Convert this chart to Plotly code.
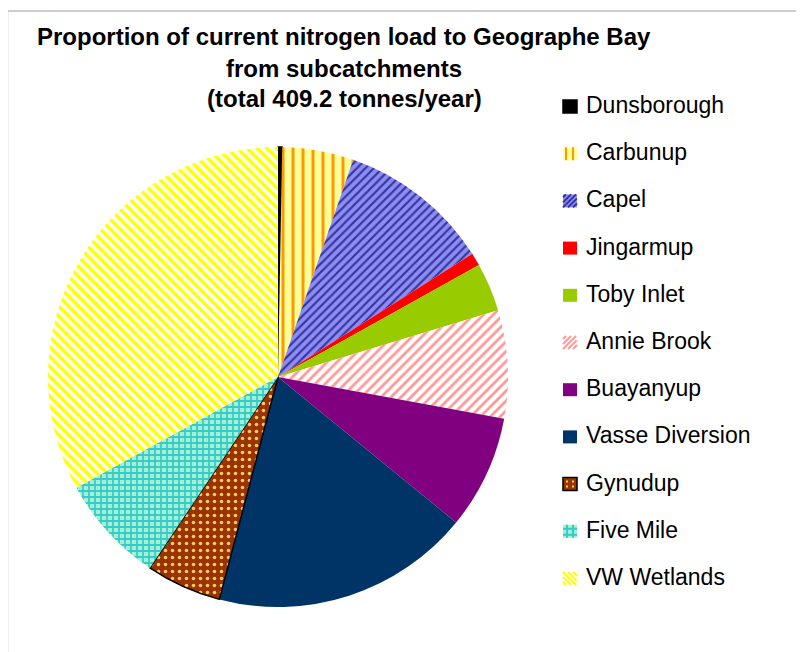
import numpy as np
import plotly.graph_objects as go

W, H = 804, 652
OFF = 8  # page body margin in the browser

labels = ["Dunsborough", "Carbunup", "Capel", "Jingarmup", "Toby Inlet", "Annie Brook",
          "Buayanyup", "Vasse Diversion", "Gynudup", "Five Mile", "VW Wetlands"]
values = [1.2, 20.5, 43.8, 3.7, 13.9, 31.1, 32.7, 74.5, 21.7, 31.1, 135.0]  # tonnes/year

bg_colors = ["#000000", "#FFFF99", "#8C8CF5", "#FF0000", "#99CC00", "#FFFFFF",
             "#800080", "#003366", "#993300", "#A8EED0", "#FFFFFF"]
fg_colors = ["#000000", "#FF9900", "#333399", "#FF0000", "#99CC00", "#FF9999",
             "#800080", "#003366", "#FFCC66", "#33CCCC", "#FFFF00"]
shapes_pat = ["", "|", "/", "", "", "/", "", "", ".", "+", "\\"]
pat_size = [8, 10, 6, 8, 8, 7, 8, 8, 7, 6, 7]
pat_solid = [0.3, 0.3, 0.35, 0.3, 0.3, 0.4, 0.3, 0.3, 0.2, 0.5, 0.5]
line_w = [1.5, 0, 0, 0, 0, 0, 0, 0, 1.5, 0, 0]

title_lines = ["Proportion of current nitrogen load to Geographe Bay",
               "from subcatchments",
               "(total 409.2 tonnes/year)"]


def px(x):
    return (x - OFF) / W


def py(y):
    return 1 - (y - OFF) / H


fig = go.Figure()
fig.add_trace(go.Pie(
    labels=labels, values=values, sort=False, direction="clockwise", rotation=0,
    textinfo="none", hoverinfo="label+value+percent", showlegend=False,
    marker=dict(
        colors=bg_colors,
        line=dict(color="#000000", width=line_w),
        pattern=dict(shape=shapes_pat, fgcolor=fg_colors, bgcolor=bg_colors,
                     size=pat_size, solidity=pat_solid, fillmode="replace"),
    ),
    domain=dict(x=[px(47), px(509)], y=[py(607), py(147)]),
))

annotations = []
title_y = [37, 68, 99]
for t, yy in zip(title_lines, title_y):
    annotations.append(dict(text="<b>" + t + "</b>", x=px(344), y=py(yy), xref="paper", yref="paper",
                            xanchor="center", yanchor="middle", showarrow=False,
                            font=dict(family="Liberation Sans, Arial, sans-serif", size=24, color="#000000")))

shapes = [dict(type="rect", xref="paper", yref="paper", x0=px(7.5), y0=py(11), x1=px(820), y1=py(670),
               line=dict(color="#BDBDBD", width=1.5), fillcolor="rgba(0,0,0,0)", layer="below")]

leg_y0, leg_dy = 105, 47.2
sx0, sx1 = 563, 577
for i, lab in enumerate(labels):
    yc = leg_y0 + i * leg_dy
    annotations.append(dict(text=lab, x=px(584), y=py(yc), xref="paper", yref="paper",
                            xanchor="left", yanchor="middle", showarrow=False,
                            font=dict(family="Liberation Sans, Arial, sans-serif", size=23, color="#000000")))
    y0, y1 = yc - 5, yc + 8
    shapes.append(dict(type="rect", xref="paper", yref="paper", x0=px(sx0), x1=px(sx1), y0=py(y1), y1=py(y0),
                       fillcolor=bg_colors[i],
                       line=dict(color="#000000" if line_w[i] else bg_colors[i], width=1.5 if line_w[i] else 0)))
    pat = shapes_pat[i]
    if pat == "|":
        for xx in [sx0 + 3, sx0 + 10]:
            shapes.append(dict(type="line", xref="paper", yref="paper", x0=px(xx), x1=px(xx), y0=py(y1), y1=py(y0),
                               line=dict(color=fg_colors[i], width=2)))
    elif pat in ("/", "\\"):
        for k in range(-2, 4):
            a = sx0 + k * 5
            if pat == "/":
                xa, ya, xb, yb = a, y1, a + 13, y0
            else:
                xa, ya, xb, yb = a, y0, a + 13, y1
            t = np.linspace(0, 1, 50)
            xs = xa + (xb - xa) * t
            ys = ya + (yb - ya) * t
            m = (xs >= sx0) & (xs <= sx1)
            if m.sum() < 2:
                continue
            shapes.append(dict(type="line", xref="paper", yref="paper",
                               x0=px(xs[m][0]), x1=px(xs[m][-1]), y0=py(ys[m][0]), y1=py(ys[m][-1]),
                               line=dict(color=fg_colors[i], width=2)))
    elif pat == ".":
        for xx in [sx0 + 4, sx0 + 10]:
            for yy in [y0 + 4, y0 + 9]:
                shapes.append(dict(type="rect", xref="paper", yref="paper", x0=px(xx - 1), x1=px(xx + 1),
                                   y0=py(yy + 1), y1=py(yy - 1), fillcolor=fg_colors[i], line=dict(width=0)))
    elif pat == "+":
        for xx in [sx0 + 4, sx0 + 10]:
            shapes.append(dict(type="line", xref="paper", yref="paper", x0=px(xx), x1=px(xx), y0=py(y1), y1=py(y0),
                               line=dict(color=fg_colors[i], width=2)))
        for yy in [y0 + 4, y0 + 10]:
            shapes.append(dict(type="line", xref="paper", yref="paper", x0=px(sx0), x1=px(sx1), y0=py(yy), y1=py(yy),
                               line=dict(color=fg_colors[i], width=2)))

fig.update_layout(
    width=W, height=H, margin=dict(l=0, r=0, t=0, b=0),
    paper_bgcolor="#FFFFFF", plot_bgcolor="#FFFFFF",
    annotations=annotations, shapes=shapes,
)
fig.write_html("out.html")
